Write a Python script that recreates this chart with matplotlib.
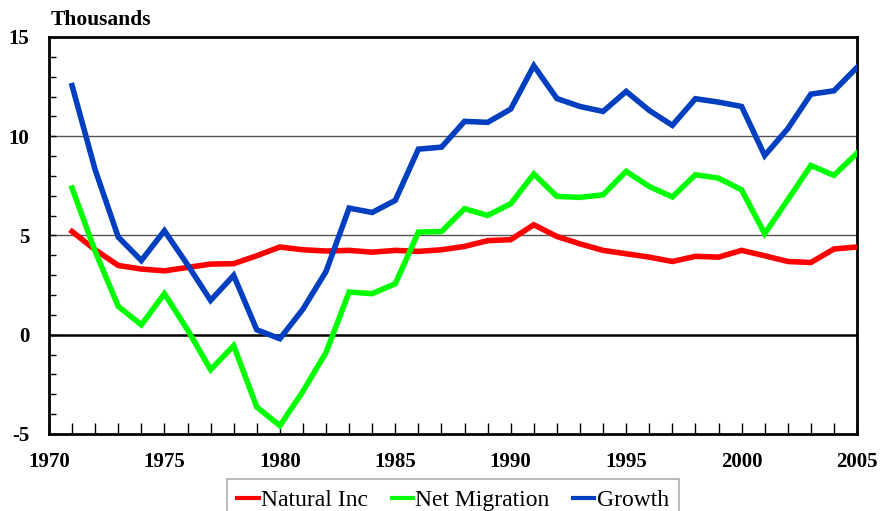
import numpy as np
import matplotlib.pyplot as plt
from matplotlib.ticker import MultipleLocator

years = list(range(1971, 2006))

natural_inc = [5.20, 4.28, 3.49, 3.31, 3.22, 3.39, 3.56, 3.58, 3.98, 4.42,
               4.28, 4.22, 4.25, 4.16, 4.25, 4.20, 4.28, 4.45, 4.74, 4.79,
               5.54, 4.95, 4.58, 4.25, 4.08, 3.91, 3.69, 3.95, 3.91, 4.25,
               3.98, 3.69, 3.64, 4.32, 4.42]

net_migration = [7.39, 4.20, 1.43, 0.50, 2.07, 0.25, -1.76, -0.55, -3.64, -4.58,
                 -2.85, -0.89, 2.15, 2.07, 2.57, 5.17, 5.20, 6.35, 6.01, 6.60,
                 8.10, 6.97, 6.92, 7.05, 8.23, 7.47, 6.94, 8.06, 7.89, 7.30,
                 5.09, 6.80, 8.53, 8.03, 9.15]

growth = [12.55, 8.31, 4.92, 3.74, 5.24, 3.53, 1.73, 2.99, 0.25, -0.20,
          1.29, 3.19, 6.38, 6.16, 6.77, 9.35, 9.45, 10.75, 10.70, 11.37,
          13.55, 11.90, 11.50, 11.25, 12.26, 11.30, 10.55, 11.89, 11.72, 11.50,
          9.03, 10.38, 12.12, 12.29, 13.47]

plt.rcParams['font.family'] = ['Liberation Serif', 'DejaVu Serif']
plt.rcParams['axes.unicode_minus'] = False

fig = plt.figure(figsize=(8.81, 5.11), dpi=100)
ax = fig.add_axes([0.0556, 0.1507, 0.9172, 0.7769])

# reference lines
ax.axhline(5, color='#555555', lw=1.0, zorder=1)
ax.axhline(10, color='#555555', lw=1.0, zorder=1)
ax.axhline(0, color='black', lw=1.8, zorder=1)

ax.plot(years, natural_inc, color='#ff0000', lw=4, label='Natural Inc', solid_joinstyle='miter', zorder=3)
ax.plot(years, net_migration, color='#00ff00', lw=4, label='Net Migration', solid_joinstyle='miter', zorder=3)
ax.plot(years, growth, color='#0040c0', lw=4, label='Growth', solid_joinstyle='miter', zorder=3)

ax.set_xlim(1970, 2005)
ax.set_ylim(-5, 15)
ax.xaxis.set_major_locator(MultipleLocator(5))
ax.xaxis.set_minor_locator(MultipleLocator(1))
ax.yaxis.set_major_locator(MultipleLocator(5))
ax.yaxis.set_minor_locator(MultipleLocator(1))
ax.tick_params(axis='both', which='both', direction='in', width=1, top=False, right=False)
ax.tick_params(axis='both', which='major', labelsize=15)
ax.tick_params(axis='x', which='both', length=8)
ax.tick_params(axis='y', which='both', length=5)
ax.tick_params(axis='x', pad=13)
ax.tick_params(axis='y', pad=14)
for lbl in ax.get_xticklabels() + ax.get_yticklabels():
    lbl.set_fontweight('bold')

for s in ax.spines.values():
    s.set_linewidth(2)

fig.text(0.057, 0.961, 'Thousands', fontsize=15.5, fontweight='bold', ha='left', va='center')

leg = ax.legend(loc='upper center', bbox_to_anchor=(0.5, -0.113), ncol=3, fontsize=17,
                frameon=True, fancybox=False, edgecolor='#999999', handlelength=0.9,
                handletextpad=0.1, columnspacing=1.0, borderpad=0.45, borderaxespad=0)
leg.get_frame().set_linewidth(1.2)
for h in leg.get_lines():
    h.set_linewidth(3)

fig.savefig('out.png', dpi=100)
